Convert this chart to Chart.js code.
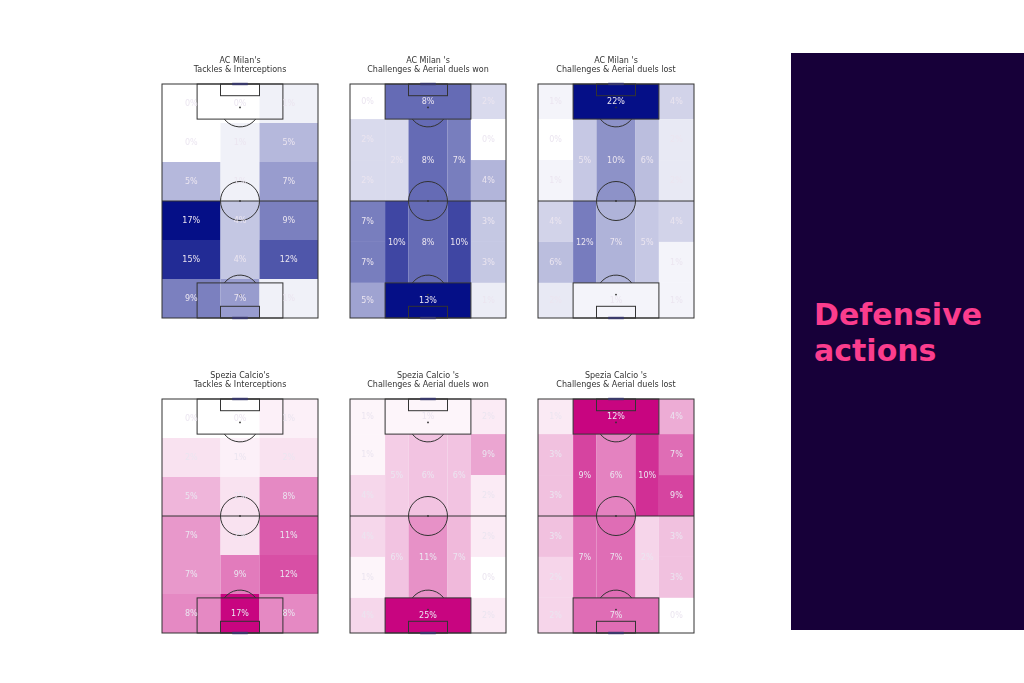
<!DOCTYPE html>
<html><head><meta charset="utf-8">
<script src="https://cdn.jsdelivr.net/npm/chart.js@4.4.1/dist/chart.umd.min.js"></script>
<style>
html,body{margin:0;padding:0;background:#fff;width:1024px;height:683px;overflow:hidden;}
.wrap{position:absolute;}
#panel{position:absolute;left:791px;top:53px;width:233px;height:577px;background:#170039;}
#ptitle{position:absolute;left:814px;top:297px;font:bold 30px "DejaVu Sans";line-height:36px;color:#fb3d8d;margin:0;white-space:nowrap;}
</style></head><body>
<div id="panel"></div>
<div id="ptitle">Defensive<br>actions</div>
<div id="charts"></div>
<script>
// ---- zone definitions (pitch units, 80 wide x 120 long) ----
const gridCols = [0, 30, 50, 80];
const gridRows = [0, 20, 40, 60, 80, 100, 120];
const positionalZones = [
  [0,18,0,18],[18,62,0,18],[62,80,0,18],
  [0,18,18,39],[0,18,39,60],[18,30,18,60],[30,50,18,60],[50,62,18,60],[62,80,18,39],[62,80,39,60],
  [0,18,60,81],[0,18,81,102],[18,30,60,102],[30,50,60,102],[50,62,60,102],[62,80,60,81],[62,80,81,102],
  [0,18,102,120],[18,62,102,120],[62,80,102,120]
];

// ---- values (%) ----
const milanTackles   = [0,0,1, 0,1,5, 5,1,7, 17,4,9, 15,4,12, 9,7,1];
const milanWon       = [0,8,2, 2,2,2,8,7,0,4, 7,7,10,8,10,3,3, 5,13,1];
const milanLost      = [1,22,4, 0,1,5,10,6,2,2, 4,6,12,7,5,4,1, 2,1,1];
const speziaTackles  = [0,0,1, 2,1,2, 5,2,8, 7,2,11, 7,9,12, 8,17,8];
const speziaWon      = [1,1,2, 1,4,5,6,6,9,2, 4,1,6,11,7,2,0, 4,25,2];
const speziaLost     = [1,12,4, 3,3,9,6,10,7,9, 3,2,7,7,2,3,3, 2,7,0];

const titles = [
  ["AC Milan's", "Tackles & Interceptions"],
  ["AC Milan 's", "Challenges & Aerial duels won"],
  ["AC Milan 's", "Challenges & Aerial duels lost"],
  ["Spezia Calcio's", "Tackles & Interceptions"],
  ["Spezia Calcio 's", "Challenges & Aerial duels won"],
  ["Spezia Calcio 's", "Challenges & Aerial duels lost"]
];

function gridZones(){
  const z=[];
  for(let r=0;r<gridRows.length-1;r++)
    for(let c=0;c<gridCols.length-1;c++)
      z.push([gridCols[c],gridCols[c+1],gridRows[r],gridRows[r+1]]);
  return z;
}

const MILAN = [5,15,135], SPEZIA = [200,5,128];
const panels = [
  {zones:gridZones(), values:milanTackles, col:MILAN},
  {zones:positionalZones, values:milanWon, col:MILAN},
  {zones:positionalZones, values:milanLost, col:MILAN},
  {zones:gridZones(), values:speziaTackles, col:SPEZIA},
  {zones:positionalZones, values:speziaWon, col:SPEZIA},
  {zones:positionalZones, values:speziaLost, col:SPEZIA}
];

function shade(col,t){
  const c = col.map(v=>Math.round(255+(v-255)*t));
  return `rgb(${c[0]},${c[1]},${c[2]})`;
}

const pitchPlugin = {
  id:'pitch',
  beforeDatasetsDraw(chart, args, opts){
    const {ctx} = chart, xs = chart.scales.x, ys = chart.scales.y;
    const ds = chart.data.datasets[0];
    const max = Math.max(...ds.data.map(d=>d.v));
    ctx.save();
    ds.data.forEach(d=>{
      const z=d.zone;
      const x0=xs.getPixelForValue(z[0]), x1=xs.getPixelForValue(z[1]);
      const y0=ys.getPixelForValue(z[2]), y1=ys.getPixelForValue(z[3]);
      ctx.fillStyle = shade(opts.col, d.v/max);
      ctx.fillRect(x0, y0, x1-x0, y1-y0);
    });
    ctx.restore();
  },
  afterDatasetsDraw(chart, args, opts){
    const {ctx} = chart, xs = chart.scales.x, ys = chart.scales.y;
    const X=v=>xs.getPixelForValue(v), Y=v=>ys.getPixelForValue(v);
    const unit = X(1)-X(0);
    ctx.save();
    ctx.strokeStyle='#333'; ctx.lineWidth=1;
    const rect=(a,b,c,d)=>{ctx.strokeRect(X(a),Y(c),X(b)-X(a),Y(d)-Y(c));};
    rect(0,80,0,120);
    ctx.beginPath(); ctx.moveTo(X(0),Y(60)); ctx.lineTo(X(80),Y(60)); ctx.stroke();
    rect(18,62,0,18); rect(18,62,102,120);
    rect(30,50,0,6); rect(30,50,114,120);
    ctx.beginPath(); ctx.arc(X(40),Y(60),10*unit,0,Math.PI*2); ctx.stroke();
    const a = Math.asin(0.6);
    ctx.beginPath(); ctx.arc(X(40),Y(12),10*unit,a,Math.PI-a); ctx.stroke();
    ctx.beginPath(); ctx.arc(X(40),Y(108),10*unit,Math.PI+a,2*Math.PI-a); ctx.stroke();
    ctx.fillStyle='#333';
    [[40,12],[40,60],[40,108]].forEach(p=>{ctx.beginPath();ctx.arc(X(p[0]),Y(p[1]),0.9,0,Math.PI*2);ctx.fill();});
    ctx.fillStyle='#3a3a6a';
    ctx.fillRect(X(36),Y(0)-1.2,X(44)-X(36),2.4);
    ctx.fillRect(X(36),Y(120)-1.2,X(44)-X(36),2.4);
    // labels
    ctx.font='8px "DejaVu Sans"'; ctx.textAlign='center'; ctx.textBaseline='middle';
    ctx.fillStyle='#ebe5f0';
    const meta = chart.getDatasetMeta(0);
    meta.data.forEach((pt,i)=>{
      ctx.fillText(chart.data.datasets[0].data[i].v+'%', pt.x, pt.y+0.5);
    });
    // title
    ctx.fillStyle='#333'; ctx.textBaseline='alphabetic';
    const cx=(chart.chartArea.left+chart.chartArea.right)/2;
    ctx.fillText(opts.title[0], cx, chart.chartArea.top-21.5);
    ctx.fillText(opts.title[1], cx, chart.chartArea.top-12);
    ctx.restore();
  }
};

const pitchLeft=[162,350,538], pitchTop=[84,399];
panels.forEach((p,i)=>{
  const wrap=document.createElement('div'); wrap.className='wrap';
  wrap.style.left=(pitchLeft[i%3]-8)+'px'; wrap.style.top=(pitchTop[Math.floor(i/3)]-36)+'px';
  const cv=document.createElement('canvas'); cv.width=172; cv.height=278;
  wrap.appendChild(cv); document.getElementById('charts').appendChild(wrap);
  new Chart(cv,{
    type:'scatter',
    data:{datasets:[{
      data:p.zones.map((z,k)=>({x:(z[0]+z[1])/2, y:(z[2]+z[3])/2, v:p.values[k], zone:z})),
      pointRadius:0, pointHoverRadius:0
    }]},
    options:{
      responsive:false, animation:false, events:[], devicePixelRatio:1,
      layout:{padding:{left:8,right:8,top:36,bottom:8}},
      scales:{
        x:{type:'linear',min:0,max:80,display:false},
        y:{type:'linear',min:0,max:120,reverse:true,display:false}
      },
      plugins:{legend:{display:false},tooltip:{enabled:false},
        pitch:{col:p.col,title:titles[i]}}
    },
    plugins:[pitchPlugin]
  });
});
</script>
</body></html>
